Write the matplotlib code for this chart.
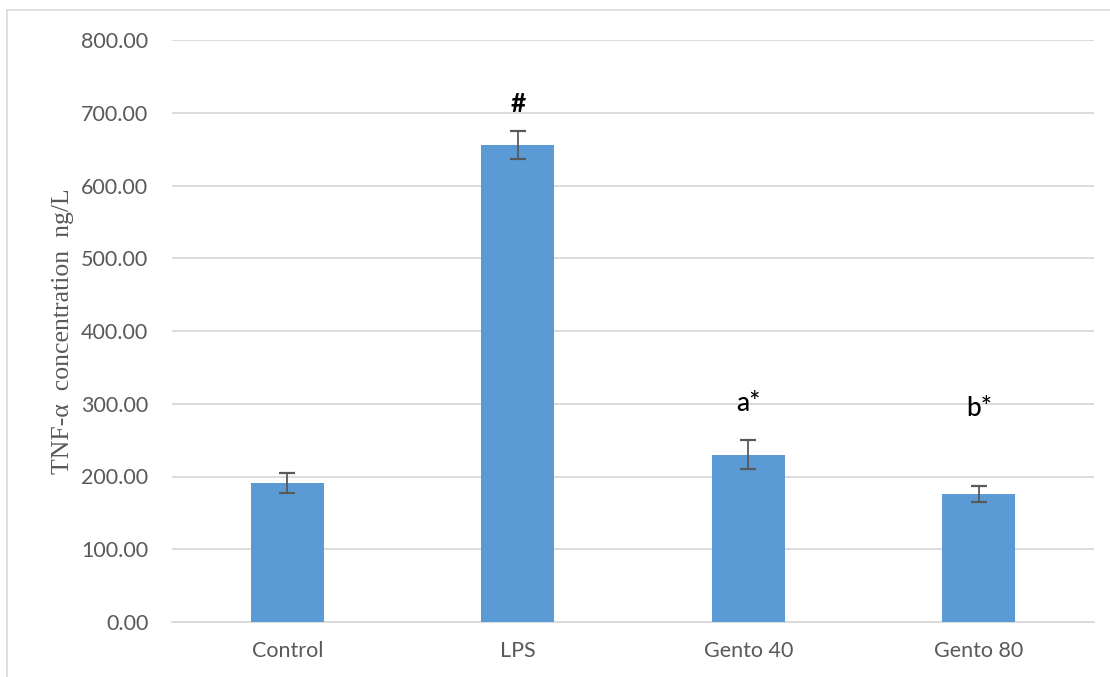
import matplotlib
matplotlib.use("Agg")
import matplotlib.pyplot as plt
from matplotlib.lines import Line2D

groups = ["Control", "LPS", "Gento 40", "Gento 80"]
means = [191.0, 656.0, 230.0, 176.0]
errors = [13.5, 19.0, 19.5, 10.5]
marks = ["", "#", "a*", "b*"]
mark_levels = [None, 712.0, 300.0, 294.0]
yticks = [0, 100, 200, 300, 400, 500, 600, 700, 800]

W, H = 1110, 677
fig = plt.figure(figsize=(W / 100, H / 100), dpi=100)
ax = fig.add_axes([172 / W, 1 - 622 / H, (1094 - 172) / W, (622 - 40) / H])

x = list(range(len(groups)))
ax.bar(x, means, width=0.315, color="#5B9BD5", zorder=3)
ax.errorbar(x, means, yerr=errors, fmt="none", ecolor="#595959",
            elinewidth=1.3, capsize=5.5, capthick=1.6, zorder=4)

for xi, txt, lvl in zip(x, marks, mark_levels):
    if txt:
        ax.text(xi, lvl, txt, ha="center", va="center", fontsize=19,
                family="Lato", color="black",
                fontweight="bold" if txt == "#" else "medium")

ax.set_xlim(-0.5, len(groups) - 0.5)
ax.set_ylim(0, 800)
ax.set_yticks(yticks)
ax.set_yticklabels([f"{v:.2f}" for v in yticks], family="Lato", fontsize=15.5, color="#595959")
ax.set_xticks(x)
ax.set_xticklabels(groups, family="Lato", fontsize=15.5, color="#595959")
ax.tick_params(axis="y", length=0, pad=17)
ax.tick_params(axis="x", length=0, pad=14)
ax.grid(axis="y", color="#D9D9D9", linewidth=1.3, zorder=0)
for s in ["top", "right", "left"]:
    ax.spines[s].set_visible(False)
ax.spines["bottom"].set_color("#D9D9D9")
ax.spines["bottom"].set_linewidth(1.3)

ax.set_ylabel("TNF-α  concentration  ng/L", family="Liberation Serif",
              fontsize=18.5, color="#595959")
ax.yaxis.set_label_coords((74 - 172) / (1094 - 172), 0.5)

# chart area frame
fig.add_artist(Line2D([7 / W, 1.0], [1 - 10 / H, 1 - 10 / H], color="#D9D9D9",
                      linewidth=1.2, transform=fig.transFigure))
fig.add_artist(Line2D([7 / W, 7 / W], [0, 1 - 10 / H], color="#D9D9D9",
                      linewidth=1.2, transform=fig.transFigure))

fig.savefig("out.png", dpi=100)
